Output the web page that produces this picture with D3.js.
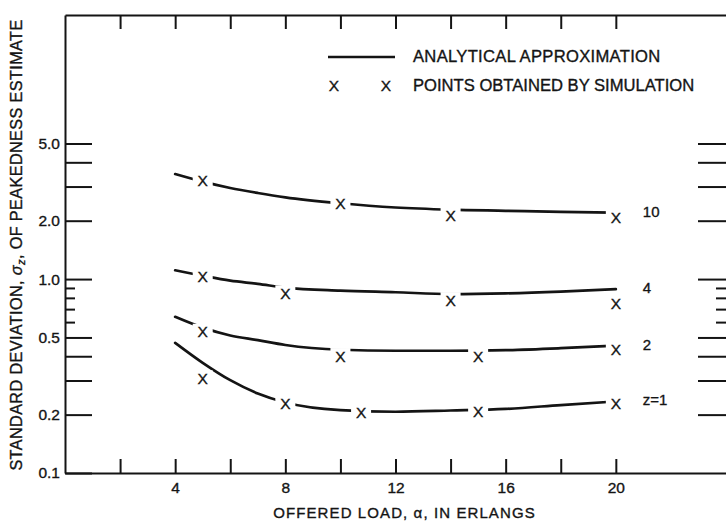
<!DOCTYPE html>
<html>
<head>
<meta charset="utf-8">
<script src="https://cdn.jsdelivr.net/npm/d3@7"></script>
<style>
  html, body { margin: 0; padding: 0; background: #fff; }
  svg { display: block; font-family: "Liberation Sans", Arial, Helvetica, sans-serif; }
  svg text { stroke: #141414; stroke-width: 0.35px; }
  .axis path, .axis line { stroke: #141414; stroke-width: 2; }
  .axis text { fill: #141414; font-size: 15.5px; font-family: "Liberation Sans", Arial, sans-serif; }
</style>
</head>
<body>
<svg id="chart" width="726" height="521"></svg>
<script>
// Offered load (erlangs) at which the analytical curves are tabulated
const loads = [4, 5, 6, 7, 8, 10, 12, 14, 16, 18, 20];

// Analytical approximation of the standard deviation of the peakedness estimate
const approxZ10 = [3.48, 3.18, 2.95, 2.78, 2.64, 2.46, 2.34, 2.28, 2.25, 2.22, 2.20];
const approxZ4  = [1.11, 1.04, 0.981, 0.945, 0.904, 0.872, 0.855, 0.837, 0.844, 0.862, 0.888];
const approxZ2  = [0.639, 0.562, 0.512, 0.484, 0.457, 0.432, 0.427, 0.427, 0.430, 0.440, 0.454];
const approxZ1  = [0.469, 0.370, 0.301, 0.257, 0.231, 0.211, 0.207, 0.210, 0.214, 0.224, 0.234];

// Points obtained by simulation
const simLoadZ10 = [5, 10, 14, 20];
const simZ10     = [3.21, 2.46, 2.14, 2.09];
const simLoadZ4  = [5, 8, 14, 20];
const simZ4      = [1.036, 0.844, 0.779, 0.749];
const simLoadZ2  = [5, 10, 15, 20];
const simZ2      = [0.535, 0.401, 0.401, 0.434];
const simLoadZ1  = [5, 8, 10.75, 15, 20];
const simZ1      = [0.308, 0.229, 0.206, 0.207, 0.229];

const curveLabels = ["10", "4", "2", "z=1"];

// Axis ticks
const xTickValues  = [2, 4, 6, 8, 10, 12, 14, 16, 18, 20];
const xTickLabels  = [4, 8, 12, 16, 20];
const yMajorTicks  = [0.1, 0.2, 0.3, 0.4, 0.5, 1, 2, 3, 4, 5];
const yMinorTicks  = [0.6, 0.7, 0.8, 0.9];
const yTickLabels  = [0.1, 0.2, 0.5, 1, 2, 5];

const series = [
  { label: curveLabels[0], approx: approxZ10, simLoad: simLoadZ10, sim: simZ10 },
  { label: curveLabels[1], approx: approxZ4,  simLoad: simLoadZ4,  sim: simZ4 },
  { label: curveLabels[2], approx: approxZ2,  simLoad: simLoadZ2,  sim: simZ2 },
  { label: curveLabels[3], approx: approxZ1,  simLoad: simLoadZ1,  sim: simZ1 }
];

const svg = d3.select("#chart");
const plotLeft = 65, plotRight = 726, plotTop = 15, plotBottom = 473;
const ink = "#141414";
const fontFamily = "'Liberation Sans', Arial, Helvetica, sans-serif";

const x = d3.scaleLinear().domain([0, 24]).range([plotLeft, plotRight]);
const y = d3.scaleLog().domain([0.1, 23]).range([plotBottom, plotTop]);

// Bottom axis: inward ticks, labels every 4 erlangs
svg.append("g")
  .attr("class", "axis")
  .attr("transform", `translate(0,${plotBottom})`)
  .call(d3.axisBottom(x)
    .tickValues(xTickValues)
    .tickSize(-14)
    .tickSizeOuter(0)
    .tickPadding(9)
    .tickFormat(d => xTickLabels.includes(d) ? String(d) : ""));

// Top frame with inward ticks
svg.append("g")
  .attr("class", "axis")
  .attr("transform", `translate(0,${plotTop})`)
  .call(d3.axisTop(x)
    .tickValues(xTickValues)
    .tickSize(-14)
    .tickSizeOuter(0)
    .tickFormat(""));

// Left log axis: long ticks with labels, short minor ticks
svg.append("g")
  .attr("class", "axis")
  .attr("transform", `translate(${plotLeft},0)`)
  .call(d3.axisLeft(y)
    .tickValues(yMajorTicks)
    .tickSize(-27)
    .tickSizeOuter(0)
    .tickPadding(5)
    .tickFormat(d => yTickLabels.includes(d) ? d3.format(".1f")(d) : ""));

svg.append("g")
  .attr("class", "axis")
  .attr("transform", `translate(${plotLeft},0)`)
  .call(d3.axisLeft(y)
    .tickValues(yMinorTicks)
    .tickSize(-10)
    .tickFormat(""))
  .call(g => g.select(".domain").remove());

// Right-hand tick scale
svg.append("g")
  .attr("class", "axis")
  .attr("transform", `translate(${plotRight},0)`)
  .call(d3.axisRight(y)
    .tickValues(yMajorTicks.filter(d => d > 0.1))
    .tickSize(-28)
    .tickFormat(""))
  .call(g => g.select(".domain").remove());

svg.append("g")
  .attr("class", "axis")
  .attr("transform", `translate(${plotRight},0)`)
  .call(d3.axisRight(y)
    .tickValues(yMinorTicks)
    .tickSize(-10)
    .tickFormat(""))
  .call(g => g.select(".domain").remove());

// Analytical curves
const line = d3.line()
  .x(d => x(d[0]))
  .y(d => y(d[1]))
  .curve(d3.curveMonotoneX);

const plot = svg.append("g");

series.forEach(s => {
  const pts = loads.map((l, i) => [l, s.approx[i]]);
  plot.append("path")
    .attr("d", line(pts))
    .attr("fill", "none")
    .attr("stroke", ink)
    .attr("stroke-width", 2.7)
    .attr("stroke-linecap", "round");
});

// Simulation points, set in a small clearing of the curve
series.forEach(s => {
  const pts = s.simLoad.map((l, i) => [l, s.sim[i]]);
  plot.selectAll(null)
    .data(pts)
    .join("rect")
    .attr("x", d => x(d[0]) - 10)
    .attr("y", d => y(d[1]) - 8)
    .attr("width", 20)
    .attr("height", 16)
    .attr("fill", "#fff");
  plot.selectAll(null)
    .data(pts)
    .join("text")
    .attr("x", d => x(d[0]))
    .attr("y", d => y(d[1]))
    .attr("dy", "0.36em")
    .attr("text-anchor", "middle")
    .attr("font-family", fontFamily)
    .attr("font-size", 15.5)
    .attr("fill", ink)
    .text("X");
});

// Curve labels at the right-hand end of each curve
series.forEach(s => {
  const last = s.approx[s.approx.length - 1];
  plot.append("text")
    .attr("x", x(loads[loads.length - 1]) + 27)
    .attr("y", y(last) + 4)
    .attr("font-family", fontFamily)
    .attr("font-size", 15)
    .attr("fill", ink)
    .text(s.label);
});

// Legend
const legend = svg.append("g").attr("font-family", fontFamily).attr("fill", ink);
legend.append("line")
  .attr("x1", 328).attr("x2", 395)
  .attr("y1", 57).attr("y2", 57)
  .attr("stroke", ink).attr("stroke-width", 2.7);
legend.append("text")
  .attr("x", 413).attr("y", 62)
  .attr("font-size", 16.6)
  .attr("letter-spacing", 0.3)
  .text("ANALYTICAL APPROXIMATION");
[334, 386].forEach(cx => {
  legend.append("text")
    .attr("x", cx).attr("y", 85).attr("dy", "0.36em")
    .attr("text-anchor", "middle")
    .attr("font-size", 15.5)
    .text("X");
});
legend.append("text")
  .attr("x", 413).attr("y", 90.5)
  .attr("font-size", 16.6)
  .text("POINTS OBTAINED BY SIMULATION");

// Axis titles
svg.append("text")
  .attr("x", (x(0) + x(24)) / 2 + 9)
  .attr("y", 518)
  .attr("text-anchor", "middle")
  .attr("font-family", fontFamily)
  .attr("font-size", 15)
  .attr("letter-spacing", 1.1)
  .attr("fill", ink)
  .text("OFFERED LOAD, α, IN ERLANGS");

const yTitle = svg.append("text")
  .attr("transform", "translate(21.5,245) rotate(-90)")
  .attr("text-anchor", "middle")
  .attr("font-family", fontFamily)
  .attr("font-size", 16.3)
  .attr("letter-spacing", 0.35)
  .attr("fill", ink);
yTitle.append("tspan").text("STANDARD DEVIATION, ");
yTitle.append("tspan").attr("font-style", "italic").text("σ");
yTitle.append("tspan").attr("font-style", "italic").attr("font-size", 11).attr("dy", 3).text("z");
yTitle.append("tspan").attr("dy", -3).text(", OF PEAKEDNESS ESTIMATE");
</script>
</body>
</html>
